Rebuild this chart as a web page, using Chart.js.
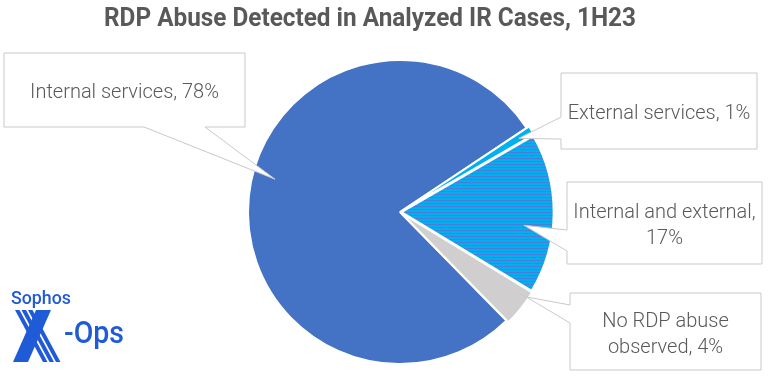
<!DOCTYPE html>
<html><head><meta charset="utf-8">
<script src="https://cdn.jsdelivr.net/npm/chart.js@4/dist/chart.umd.min.js"></script>
<style>html,body{margin:0;padding:0;background:#fff;overflow:hidden}#wrap{width:768px;height:376px;position:relative}</style>
</head><body><div id="wrap"><canvas id="c" width="768" height="376"></canvas></div>
<script>
const categories = ['Internal services', 'External services', 'Internal and external', 'No RDP abuse observed'];
const values = [78, 1, 17, 4];
const calloutText = [['Internal services, 78%'], ['External services, 1%'], ['Internal and external,', '17%'], ['No RDP abuse', 'observed, 4%']];
const titleText = 'RDP Abuse Detected in Analyzed IR Cases, 1H23';

const canvas = document.getElementById('c');
const ctx = canvas.getContext('2d');

function stripePattern() {
  const p = document.createElement('canvas');
  p.width = 4; p.height = 3;
  const g = p.getContext('2d');
  g.fillStyle = '#00B0F0'; g.fillRect(0, 0, 4, 3);
  g.fillStyle = '#5279D6'; g.fillRect(0, 2, 4, 1);
  return ctx.createPattern(p, 'repeat');
}

// callout layout (box: left, top, right, bottom; wedge base; tip position along slice)
const calloutLayout = [
  {box: [4, 53, 245, 127], side: 'bottom', base: [144, 205], frac: 0.531, rf: 0.85},
  {box: [561, 73, 757, 149], side: 'left', base: [117, 139], frac: 0.5, rf: 0.92},
  {box: [567, 182, 762, 264], side: 'left', base: [230, 251], frac: 0.59, rf: 0.82},
  {box: [570, 293, 761, 370], side: 'left', base: [305, 323], frac: 0.19, rf: 1.0}
];

const annot = {
  id: 'annot',
  afterDatasetsDraw(chart) {
    const c = chart.ctx;
    const meta = chart.getDatasetMeta(0);
    c.save();
    // title
    c.fillStyle = '#595959';
    c.font = 'bold 26px Roboto, sans-serif';
    c.textBaseline = 'alphabetic';
    c.textAlign = 'left';
    const tw = c.measureText(titleText).width;
    c.save();
    c.translate(104, 26);
    c.scale(532 / tw, 1);
    c.fillText(titleText, 0, 0);
    c.restore();

    // callouts
    calloutLayout.forEach((co, i) => {
      const arc = meta.data[i];
      const a = arc.startAngle + co.frac * (arc.endAngle - arc.startAngle);
      const r = co.rf * arc.outerRadius;
      const tx = arc.x + r * Math.cos(a), ty = arc.y + r * Math.sin(a);
      const [l, t, rr, b] = co.box;
      c.beginPath();
      if (co.side === 'left') {
        c.moveTo(l, t); c.lineTo(rr, t); c.lineTo(rr, b); c.lineTo(l, b);
        c.lineTo(l, co.base[1]); c.lineTo(tx, ty); c.lineTo(l, co.base[0]); c.closePath();
      } else {
        c.moveTo(l, t); c.lineTo(rr, t); c.lineTo(rr, b); c.lineTo(co.base[1], b);
        c.lineTo(tx, ty); c.lineTo(co.base[0], b); c.lineTo(l, b); c.closePath();
      }
      c.fillStyle = '#ffffff';
      c.fill();
      c.strokeStyle = '#C9C9C9';
      c.lineWidth = 1;
      c.stroke();
      const lines = calloutText[i];
      c.fillStyle = '#595959';
      c.font = '300 20px Roboto, "Noto Sans", sans-serif';
      c.textAlign = 'center';
      c.textBaseline = 'middle';
      const cx = (l + rr) / 2, cy = (t + b) / 2 + 3;
      const lh = 26;
      lines.forEach((s, k) => {
        c.fillText(s, cx, cy + (k - (lines.length - 1) / 2) * lh);
      });
    });

    // logo
    const blue = '#1F5BD6';
    c.fillStyle = blue;
    c.textAlign = 'left';
    c.textBaseline = 'alphabetic';
    c.font = '500 19px Roboto, sans-serif';
    const sw = c.measureText('Sophos').width;
    c.save();
    c.translate(11, 304);
    c.scale(60 / sw, 1);
    c.fillText('Sophos', 0, 0);
    c.restore();
    // stripes of the X
    for (let k = 0; k < 3; k++) {
      const x0 = 15 + k * 6.5;
      c.beginPath();
      c.moveTo(x0, 310); c.lineTo(x0 + 4.5, 310);
      c.lineTo(x0 + 32.5, 362); c.lineTo(x0 + 28, 362); c.closePath();
      c.fill();
    }
    c.beginPath();
    c.moveTo(36, 310); c.lineTo(51, 310); c.lineTo(28, 362); c.lineTo(13, 362); c.closePath();
    c.fill();
    c.font = '500 31px Roboto, sans-serif';
    const ow = c.measureText('-Ops').width;
    c.save();
    c.translate(64, 343);
    c.scale(60 / ow, 1);
    c.fillText('-Ops', 0, 0);
    c.restore();
    c.restore();
  }
};

new Chart(ctx, {
  type: 'pie',
  data: {
    labels: categories,
    datasets: [{
      data: values,
      backgroundColor: ['#4472C4', '#00B0F0', stripePattern(), '#D0CECE'],
      borderColor: '#ffffff',
      borderWidth: 2,
      offset: [0, 6, 6, 6],
      hoverOffset: 0
    }]
  },
  options: {
    responsive: false,
    animation: false,
    events: [],
    rotation: 135.6,
    radius: 152,
    layout: {padding: {left: 248, right: 216, top: 60, bottom: 12}},
    plugins: {legend: {display: false}, tooltip: {enabled: false}, title: {display: false}}
  },
  plugins: [annot]
});
</script>
</body></html>
